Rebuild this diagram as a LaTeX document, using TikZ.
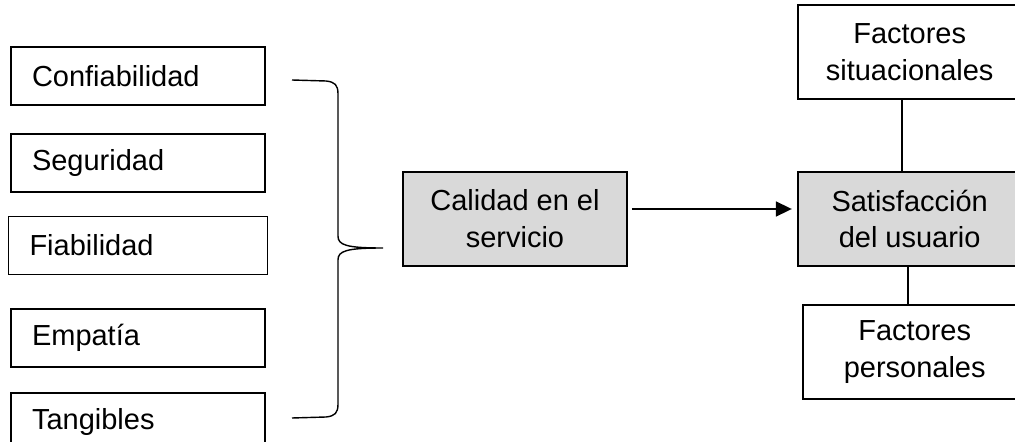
\documentclass[tikz,border=0pt]{standalone}
\usepackage{fontspec}
\setmainfont{Liberation Sans}
\usetikzlibrary{positioning,arrows.meta}
\definecolor{boxgray}{RGB}{217,217,217}
\tikzstyle{factor} = [draw, rectangle, line width=1pt, minimum height=1.16cm, text width=4.24cm, inner xsep=0.42cm, inner ysep=0pt, align=left]
\tikzstyle{block} = [draw, rectangle, line width=1pt, minimum height=1.88cm, minimum width=4.48cm, inner sep=0pt, align=center]
\tikzstyle{gblock} = [block, fill=boxgray]
\tikzstyle{to} = [-{Triangle[length=0.32cm,width=0.3cm]}, line width=1pt]
\tikzstyle{link} = [line width=1pt]

\begin{document}
\begin{tikzpicture}[x=0.02cm, y=-0.02cm, font=\fontsize{16.5}{21}\selectfont]
		\clip (0,0) rectangle (1015,442);
		\node (conf) [factor] at (138,76) {Confiabilidad};
		\node (seg) [factor, below=0.54cm of conf] {Seguridad};
		\node (fiab) [factor, text width=4.34cm, below=0.46cm of seg] {Fiabilidad};
		\node (emp) [factor, below=0.66cm of fiab] {Empatía};
		\node (tang) [factor, below=0.48cm of emp] {Tangibles};
		% llave
		\draw[line width=0.8pt] (292,80) -- (326,81) .. controls (335,82) and (338,85) .. (338,94) -- (338,236)
			.. controls (338,245) and (346,248) .. (383,248) .. controls (346,248) and (338,251) .. (338,260)
			-- (338,404) .. controls (338,413) and (335,416) .. (326,417) -- (292,418);
		\node (cal) [gblock] at (515,219) {Calidad en el\\servicio};
		\node (sat) [gblock, right=3.38cm of cal] {Satisfacción\\del usuario};
		\node (sit) [block, above=1.42cm of sat] {Factores\\situacionales};
		\node (per) [block, below=0.74cm of sat, xshift=0.1cm] {Factores\\personales};
		\draw[to, shorten <=0.08cm, shorten >=0.1cm] ([yshift=0.2cm]cal.east) -- ([yshift=0.2cm]sat.west);
		\draw[link] ([xshift=-0.16cm]sit.south) -- ([xshift=-0.16cm]sit.south |- sat.north);
		\draw[link] ([xshift=-0.04cm]sat.south) -- ([xshift=-0.04cm]sat.south |- per.north);
\end{tikzpicture}
\end{document}
